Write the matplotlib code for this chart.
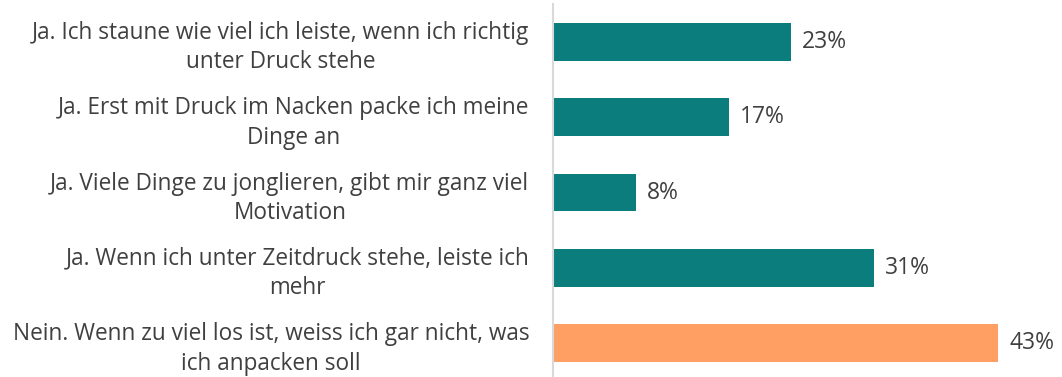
import numpy as np
import matplotlib.pyplot as plt

plt.rcParams['font.family'] = ['Open Sans', 'DejaVu Sans']

# data
labels = [
    "Ja. Ich staune wie viel ich leiste, wenn ich richtig\nunter Druck stehe",
    "Ja. Erst mit Druck im Nacken packe ich meine\nDinge an",
    "Ja. Viele Dinge zu jonglieren, gibt mir ganz viel\nMotivation",
    "Ja. Wenn ich unter Zeitdruck stehe, leiste ich\nmehr",
    "Nein. Wenn zu viel los ist, weiss ich gar nicht, was\nich anpacken soll",
]
values = [23, 17, 8, 31, 43]
colors = ["#0b7d7d", "#0b7d7d", "#0b7d7d", "#0b7d7d", "#ff9f63"]

fig = plt.figure(figsize=(10.62, 3.77), dpi=100)
ax = fig.add_axes([553 / 1062, 0.0, 509 / 1062, 373 / 377])

y = np.arange(len(values))
ax.barh(y, values, height=0.5, color=colors)
ax.set_ylim(4.45, -0.505)
ax.set_xlim(0, 49.2)

text_col = "#404040"
for yi, v in zip(y, values):
    ax.text(v + 1.1, yi, f"{v}%", va="center", ha="left", fontsize=16.5, color=text_col)

ax.set_yticks(y)
ax.set_yticklabels(labels, fontsize=16.3, color=text_col, multialignment="center",
                   linespacing=1.3)
ax.tick_params(axis="y", length=0, pad=17)
ax.set_xticks([])
for s in ["top", "right", "bottom"]:
    ax.spines[s].set_visible(False)
ax.spines["left"].set_color("#d9d9d9")
ax.spines["left"].set_linewidth(1.5)

fig.savefig("out.png", dpi=100)
